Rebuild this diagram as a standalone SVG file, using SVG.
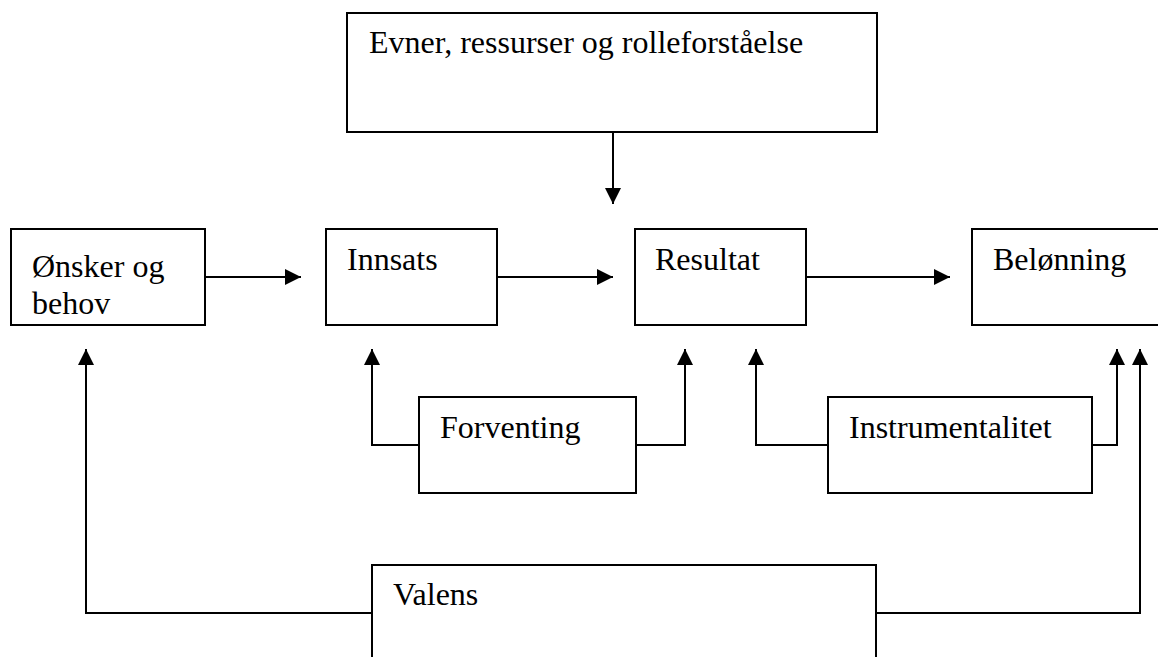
<svg xmlns="http://www.w3.org/2000/svg" width="1158" height="657" viewBox="0 0 1158 657">
<style>
.box{fill:#fff;stroke:#000;stroke-width:2}
.lbl{font-family:"Liberation Serif","Times New Roman",serif;font-size:32px;fill:#000}
.con{fill:none;stroke:#000;stroke-width:2}
</style>
<defs>
<marker id="ah" markerUnits="userSpaceOnUse" markerWidth="16" markerHeight="16" refX="16" refY="8" orient="auto" viewBox="0 0 16 16">
<path d="M0,0 L16,8 L0,16 z" fill="#000"/>
</marker>
</defs>
<rect width="1158" height="657" fill="#fff"/>
<g id="connectors">
<line class="con" x1="613" y1="132" x2="613" y2="204" marker-end="url(#ah)"/>
<line class="con" x1="205" y1="277" x2="301" y2="277" marker-end="url(#ah)"/>
<line class="con" x1="497" y1="277" x2="613" y2="277" marker-end="url(#ah)"/>
<line class="con" x1="806" y1="277" x2="950" y2="277" marker-end="url(#ah)"/>
<polyline class="con" points="419,445 372,445 372,349" marker-end="url(#ah)"/>
<polyline class="con" points="636,445 685,445 685,349" marker-end="url(#ah)"/>
<polyline class="con" points="828,445 756,445 756,349" marker-end="url(#ah)"/>
<polyline class="con" points="1092,445 1117,445 1117,349" marker-end="url(#ah)"/>
<polyline class="con" points="372,613 86,613 86,349" marker-end="url(#ah)"/>
<polyline class="con" points="876,613 1140,613 1140,349" marker-end="url(#ah)"/>
</g>
<g id="evner">
<rect class="box" x="347" y="13" width="530" height="119"/>
<text class="lbl" x="369" y="53">Evner, ressurser og rolleforståelse</text>
</g>
<g id="onsker">
<rect class="box" x="11" y="229" width="194" height="96"/>
<text class="lbl" x="32" y="277">Ønsker og</text>
<text class="lbl" x="32" y="314">behov</text>
</g>
<g id="innsats">
<rect class="box" x="326" y="229" width="171" height="96"/>
<text class="lbl" x="347" y="270">Innsats</text>
</g>
<g id="resultat">
<rect class="box" x="635" y="229" width="171" height="96"/>
<text class="lbl" x="655" y="270">Resultat</text>
</g>
<g id="belonning">
<rect class="box" x="972" y="229" width="200" height="96"/>
<text class="lbl" x="993" y="270">Belønning</text>
</g>
<g id="forventing">
<rect class="box" x="419" y="397" width="217" height="96"/>
<text class="lbl" x="440" y="438">Forventing</text>
</g>
<g id="instrumentalitet">
<rect class="box" x="828" y="397" width="264" height="96"/>
<text class="lbl" x="849" y="438">Instrumentalitet</text>
</g>
<g id="valens">
<rect class="box" x="372" y="565" width="504" height="100"/>
<text class="lbl" x="393" y="605">Valens</text>
</g>
</svg>
